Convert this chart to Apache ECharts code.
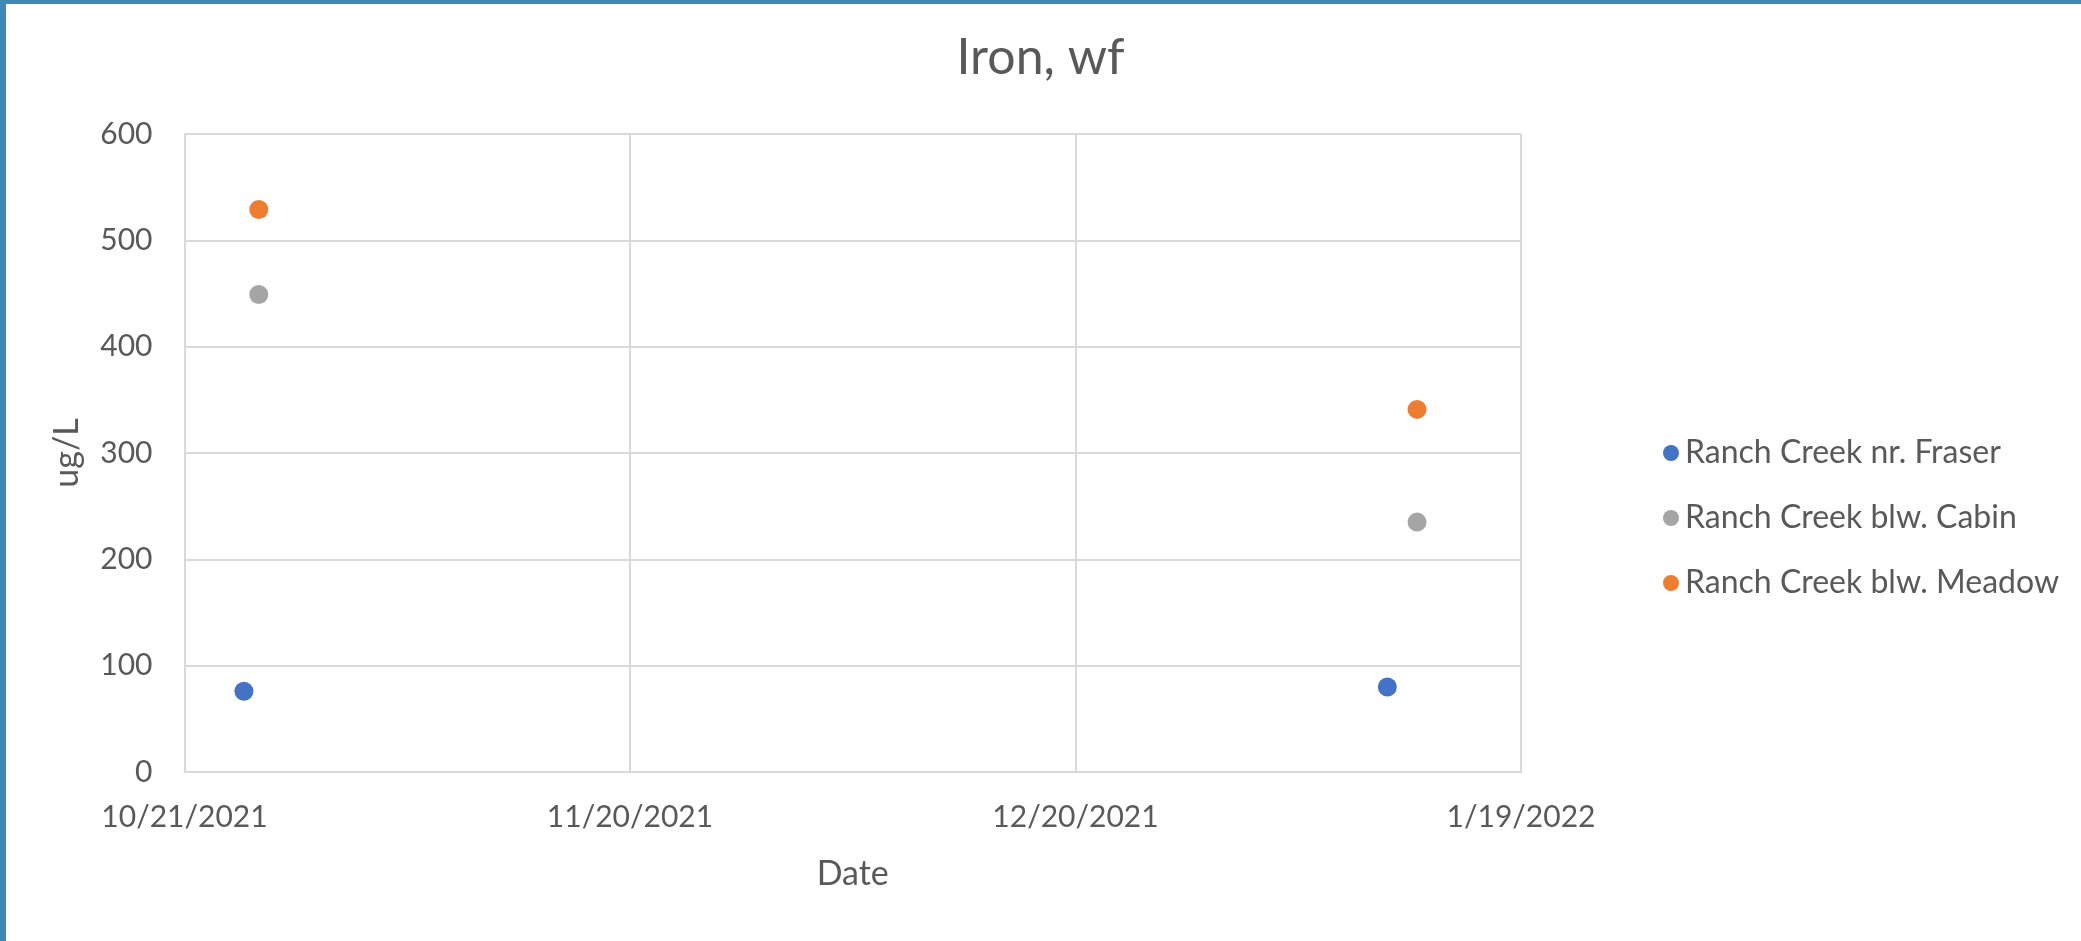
<!DOCTYPE html>
<html>
<head>
    <meta charset="utf-8">
    <title>Iron, wf</title>
    <script src="https://cdn.jsdelivr.net/npm/echarts@6/dist/echarts.min.js"></script>
    <style>
        html, body { margin: 0; padding: 0; background: #fff; }
        #main { position: absolute; left: 0; top: 0; width: 2081px; height: 941px; }
        .edge { position: absolute; background: #3e88b6; }
    </style>
</head>
<body>
    <div id="main"></div>
    <div class="edge" style="left:0;top:0;width:2081px;height:4px;"></div>
    <div class="edge" style="left:0;top:0;width:6px;height:941px;"></div>
    <script type="text/javascript">
        // data
        var seriesNames = ['Ranch Creek nr. Fraser', 'Ranch Creek blw. Cabin', 'Ranch Creek blw. Meadow'];
        var fraserDates = ['2021-10-25', '2022-01-10'];
        var fraserValues = [76, 80];
        var cabinDates = ['2021-10-26', '2022-01-12'];
        var cabinValues = [449, 235];
        var meadowDates = ['2021-10-26', '2022-01-12'];
        var meadowValues = [529, 341];
        var colors = ['#4472c4', '#a5a5a5', '#ed7d31'];
        var startDate = '2021-10-21';
        var xTickDays = 30;
        var xMaxDays = 90;
        var yTicks = [0, 100, 200, 300, 400, 500, 600];

        var DAY = 86400000;
        var t0 = Date.parse(startDate);
        function dayOf(s) { return Math.round((Date.parse(s) - t0) / DAY); }
        function pairs(dates, vals) {
            var out = [];
            for (var i = 0; i < dates.length; i++) out.push([dayOf(dates[i]), vals[i]]);
            return out;
        }
        function fmtDate(d) {
            var dt = new Date(t0 + d * DAY);
            return (dt.getUTCMonth() + 1) + '/' + dt.getUTCDate() + '/' + dt.getUTCFullYear();
        }

        var font = 'Lato';
        var textColor = '#595959';
        var gridColor = '#d9d9d9';

        var chart = echarts.init(document.getElementById('main'));
        var option = {
            animation: false,
            backgroundColor: '#ffffff',
            title: {
                text: 'Iron, wf',
                left: 'center',
                top: 28,
                textStyle: { fontFamily: font, fontSize: 50, fontWeight: 'normal', color: textColor }
            },
            legend: {
                orient: 'vertical',
                left: 1658,
                top: 432,
                itemGap: 33,
                itemWidth: 16,
                itemHeight: 16,
                icon: 'circle',
                data: seriesNames,
                textStyle: { fontFamily: font, fontSize: 32, color: textColor, padding: [0, 0, 0, 1] }
            },
            grid: { left: 184.5, right: 560, top: 134, bottom: 169 },
            xAxis: {
                type: 'value',
                min: 0,
                max: xMaxDays,
                interval: xTickDays,
                name: 'Date',
                nameLocation: 'middle',
                nameGap: 85,
                nameTextStyle: { fontFamily: font, fontSize: 34, color: textColor },
                axisLine: { show: true, lineStyle: { color: gridColor, width: 2 } },
                axisTick: { show: false },
                axisLabel: {
                    margin: 30,
                    fontFamily: font, fontSize: 30, color: textColor,
                    formatter: function (v) { return fmtDate(v); }
                },
                splitLine: { show: true, lineStyle: { color: gridColor, width: 2 } }
            },
            yAxis: {
                type: 'value',
                min: yTicks[0],
                max: yTicks[yTicks.length - 1],
                interval: yTicks[1] - yTicks[0],
                name: 'ug/L',
                nameLocation: 'middle',
                nameGap: 100,
                nameTextStyle: { fontFamily: font, fontSize: 34, color: textColor },
                axisLine: { show: true, lineStyle: { color: gridColor, width: 2 } },
                axisTick: { show: false },
                axisLabel: { margin: 32, fontFamily: font, fontSize: 30, color: textColor },
                splitLine: { show: true, lineStyle: { color: gridColor, width: 2 } }
            },
            series: [
                { name: seriesNames[0], type: 'scatter', symbolSize: 19, itemStyle: { color: colors[0], opacity: 1 }, data: pairs(fraserDates, fraserValues) },
                { name: seriesNames[1], type: 'scatter', symbolSize: 19, itemStyle: { color: colors[1], opacity: 1 }, data: pairs(cabinDates, cabinValues) },
                { name: seriesNames[2], type: 'scatter', symbolSize: 19, itemStyle: { color: colors[2], opacity: 1 }, data: pairs(meadowDates, meadowValues) }
            ]
        };
        chart.setOption(option);
    </script>
</body>
</html>
